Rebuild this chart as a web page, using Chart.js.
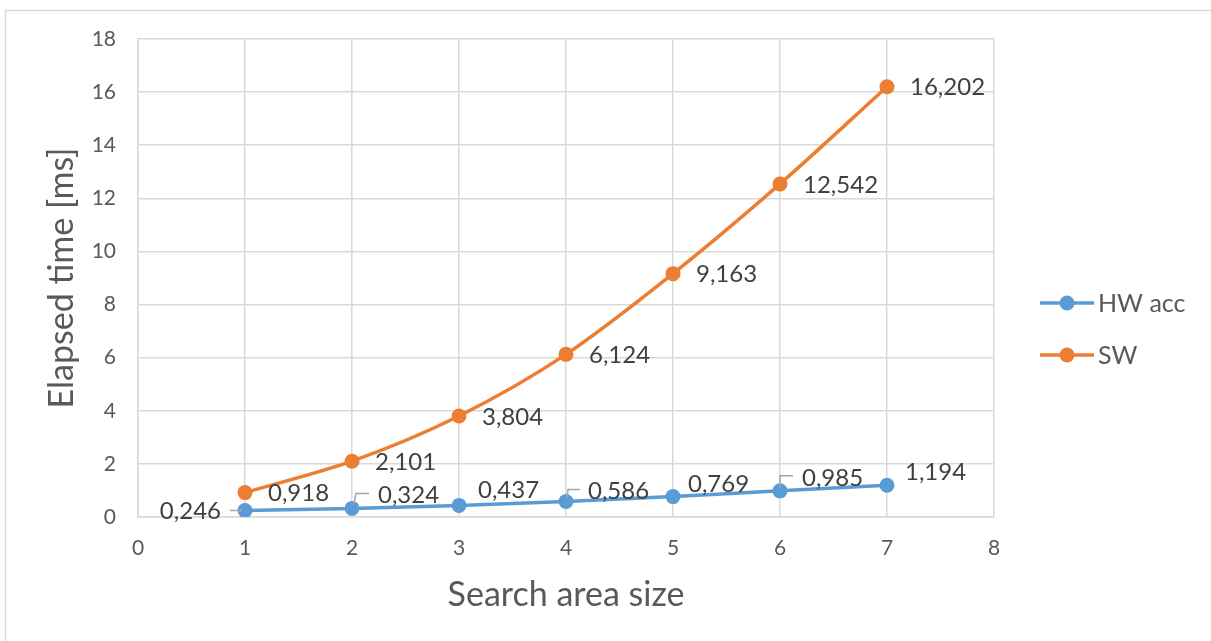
<!DOCTYPE html>
<html>
<head>
<meta charset="utf-8">
<script src="https://cdn.jsdelivr.net/npm/chart.js@4.4.1/dist/chart.umd.min.js"></script>
<style>
  html, body { margin: 0; padding: 0; background: #fff; }
  #wrap { width: 1211px; height: 641px; position: relative; }
</style>
</head>
<body>
<div id="wrap"><canvas id="c"></canvas></div>
<script>
// ---- data ----
const xValues = [1, 2, 3, 4, 5, 6, 7];
const hwAcc = [0.246, 0.324, 0.437, 0.586, 0.769, 0.985, 1.194];
const sw = [0.918, 2.101, 3.804, 6.124, 9.163, 12.542, 16.202];
const seriesNames = ['HW acc', 'SW'];
const xTitle = 'Search area size';
const yTitle = 'Elapsed time [ms]';

// ---- label layout (styling only) ----
const hwLabelLayout = [
  { dx: -24, dy: 1, align: 'right', leader: [[-15, 0], [-3, 0]] },
  { dx: 26, dy: -13, align: 'left', leader: [[2, -4], [4, -15], [17, -15]] },
  { dx: 19, dy: -15, align: 'left', leader: null },
  { dx: 22, dy: -10, align: 'left', leader: [[1, -3], [2, -12], [14, -12]] },
  { dx: 15, dy: -12, align: 'left', leader: null },
  { dx: 22, dy: -13, align: 'left', leader: [[0, -3], [0, -15], [13, -15]] },
  { dx: 18, dy: -13, align: 'left', leader: null }
];
const swLabelLayout = { dx: 23, dy: 1, align: 'left' };

const BLUE = '#5B9BD5';
const ORANGE = '#ED7D31';
const GRID = '#D9D9D9';
const TEXT = '#595959';
const FONT = 'Lato, "Open Sans", sans-serif';

function fmt(v) { return v.toFixed(3).replace('.', ','); }

const labelPlugin = {
  id: 'labels',
  afterDatasetsDraw(chart) {
    const ctx = chart.ctx;
    ctx.save();
    ctx.font = '24px ' + FONT;
    ctx.fillStyle = '#404040';
    ctx.textBaseline = 'middle';
    const swMeta = chart.getDatasetMeta(1);
    swMeta.data.forEach((pt, i) => {
      ctx.textAlign = swLabelLayout.align;
      ctx.fillText(fmt(sw[i]), pt.x + swLabelLayout.dx, pt.y + swLabelLayout.dy);
    });
    const hwMeta = chart.getDatasetMeta(0);
    hwMeta.data.forEach((pt, i) => {
      const L = hwLabelLayout[i];
      if (L.leader) {
        ctx.beginPath();
        ctx.strokeStyle = '#A6A6A6';
        ctx.lineWidth = 1.5;
        L.leader.forEach((p, k) => {
          if (k === 0) ctx.moveTo(pt.x + p[0], pt.y + p[1]);
          else ctx.lineTo(pt.x + p[0], pt.y + p[1]);
        });
        ctx.stroke();
      }
      ctx.textAlign = L.align;
      ctx.fillText(fmt(hwAcc[i]), pt.x + L.dx, pt.y + L.dy);
    });
    ctx.restore();
  },
  afterDraw(chart) {
    const ctx = chart.ctx;
    ctx.save();
    ctx.strokeStyle = GRID;
    ctx.lineWidth = 1.5;
    ctx.strokeRect(5.5, 10.5, 1210, 700);
    const items = [
      { name: seriesNames[0], color: BLUE, y: 303 },
      { name: seriesNames[1], color: ORANGE, y: 355 }
    ];
    items.forEach(it => {
      ctx.strokeStyle = it.color;
      ctx.lineWidth = 3.5;
      ctx.beginPath();
      ctx.moveTo(1040, it.y);
      ctx.lineTo(1094, it.y);
      ctx.stroke();
      ctx.fillStyle = it.color;
      ctx.beginPath();
      ctx.arc(1067, it.y, 7.5, 0, Math.PI * 2);
      ctx.fill();
      ctx.fillStyle = TEXT;
      ctx.font = '25px ' + FONT;
      ctx.textAlign = 'left';
      ctx.textBaseline = 'middle';
      ctx.fillText(it.name, 1098, it.y + 1);
    });
    ctx.restore();
  }
};

new Chart(document.getElementById('c'), {
  type: 'line',
  data: {
    datasets: [
      {
        label: seriesNames[0],
        data: xValues.map((x, i) => ({ x: x, y: hwAcc[i] })),
        borderColor: BLUE, backgroundColor: BLUE,
        borderWidth: 3.5, pointRadius: 7.5, pointHoverRadius: 7.5,
        pointBackgroundColor: BLUE, pointBorderWidth: 0,
        tension: 0.3, fill: false
      },
      {
        label: seriesNames[1],
        data: xValues.map((x, i) => ({ x: x, y: sw[i] })),
        borderColor: ORANGE, backgroundColor: ORANGE,
        borderWidth: 3.5, pointRadius: 7.5, pointHoverRadius: 7.5,
        pointBackgroundColor: ORANGE, pointBorderWidth: 0,
        tension: 0.3, fill: false
      }
    ]
  },
  options: {
    responsive: true,
    maintainAspectRatio: false,
    animation: false,
    layout: { padding: { left: 0, top: 39, right: 217, bottom: 0 } },
    plugins: { legend: { display: false }, tooltip: { enabled: false } },
    scales: {
      x: {
        type: 'linear', min: 0, max: 8,
        ticks: { stepSize: 1, color: TEXT, font: { family: FONT, size: 21 }, padding: 19 },
        grid: { color: GRID, lineWidth: 1.5, drawTicks: false },
        border: { color: GRID, width: 1.5 },
        title: { display: true, text: xTitle, color: TEXT, font: { family: FONT, size: 34 }, padding: { top: 0, bottom: 26 } },
        afterFit(scale) { scale.height = 124; }
      },
      y: {
        type: 'linear', min: 0, max: 18,
        ticks: { stepSize: 2, color: TEXT, font: { family: FONT, size: 21 }, padding: 22 },
        grid: { color: GRID, lineWidth: 1.5, drawTicks: false },
        border: { color: GRID, width: 1.5 },
        title: { display: true, text: yTitle, color: TEXT, font: { family: FONT, size: 34 }, padding: { top: 42, bottom: 0 } },
        afterFit(scale) { scale.width = 138; }
      }
    }
  },
  plugins: [labelPlugin]
});
</script>
</body>
</html>
